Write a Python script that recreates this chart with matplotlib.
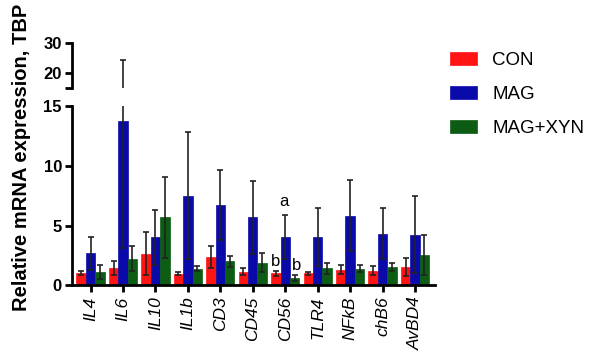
import numpy as np
import matplotlib
matplotlib.use("Agg")
import matplotlib.pyplot as plt

plt.rcParams['font.family'] = ['Liberation Sans', 'DejaVu Sans']

genes = ["IL4", "IL6", "IL10", "IL1b", "CD3", "CD45", "CD56", "TLR4", "NFkB", "chB6", "AvBD4"]
groups = ["CON", "MAG", "MAG+XYN"]

con = [1.02, 1.45, 2.62, 0.95, 2.40, 1.15, 1.00, 1.00, 1.31, 1.23, 1.56]
con_err = [0.20, 0.58, 1.80, 0.13, 0.92, 0.33, 0.23, 0.14, 0.39, 0.36, 0.75]
mag = [2.68, 13.78, 4.00, 7.50, 6.72, 5.70, 4.05, 4.03, 5.83, 4.32, 4.24]
mag_err = [1.36, 10.7, 2.32, 5.30, 2.93, 3.05, 1.82, 2.42, 2.98, 2.15, 3.23]
xyn = [1.12, 2.22, 5.68, 1.40, 2.02, 1.88, 0.61, 1.42, 1.39, 1.53, 2.54]
xyn_err = [0.57, 1.05, 3.37, 0.22, 0.45, 0.80, 0.23, 0.48, 0.31, 0.37, 1.70]

colors = ["#ff1414", "#0a0aaa", "#0c5c14"]

fig = plt.figure(figsize=(5.91, 3.59), dpi=100)
ax_lo = fig.add_axes([0.1213, 0.2053, 0.615, 0.4994])
ax_hi = fig.add_axes([0.1213, 0.754, 0.615, 0.1253])

x = np.arange(len(genes))
w = 0.29
series = [(con, con_err), (mag, mag_err), (xyn, xyn_err)]

for ax in (ax_lo, ax_hi):
    for i, (vals, errs) in enumerate(series):
        ax.bar(x + (i - 1) * w, vals, w, color=colors[i], edgecolor=colors[i],
               linewidth=0.5, label=groups[i], zorder=2)
        ax.errorbar(x + (i - 1) * w, vals, yerr=errs, fmt='none', ecolor='#222222',
                    elinewidth=1.2, capsize=2.2, capthick=1.2, zorder=3)
    ax.set_xlim(-0.58, 10.62)
    for s in ["top", "right"]:
        ax.spines[s].set_visible(False)
    ax.spines["left"].set_linewidth(2)
    ax.tick_params(axis='y', width=2, length=5, labelsize=12, pad=2)

ax_lo.set_ylim(0, 15)
ax_lo.set_yticks([0, 5, 10, 15])
ax_lo.set_yticklabels(["0", "5", "10", "15"], fontweight='bold')
ax_lo.spines["bottom"].set_linewidth(2)
ax_lo.set_xticks(x)
ax_lo.set_xticklabels(genes, rotation=90, style='italic', fontsize=12.5)
ax_lo.tick_params(axis='x', width=2, length=5, pad=3)

ax_hi.set_ylim(15, 30)
ax_hi.set_yticks([15, 20, 30])
ax_hi.set_yticklabels(["", "20", "30"], fontweight='bold')
ax_hi.spines["bottom"].set_visible(False)
ax_hi.set_xticks([])

# significance letters
ax_lo.text(x[6] - 0.05, 7.0, "a", ha='center', va='center', fontsize=12)
ax_lo.text(x[6] - w, 2.0, "b", ha='center', va='center', fontsize=12)
ax_lo.text(x[6] + w + 0.05, 1.65, "b", ha='center', va='center', fontsize=12)

fig.text(0.037, 0.563, "Relative mRNA expression, TBP", rotation=90, ha='center',
         va='center', fontsize=14.5, fontweight='bold')

handles, labels = ax_lo.get_legend_handles_labels()
fig.legend(handles, labels, loc='upper left', bbox_to_anchor=(0.733, 0.902),
           frameon=False, fontsize=13.5, handlelength=1.45, handleheight=0.7,
           handletextpad=0.8, labelspacing=0.9)

fig.savefig("out.png", dpi=100)
